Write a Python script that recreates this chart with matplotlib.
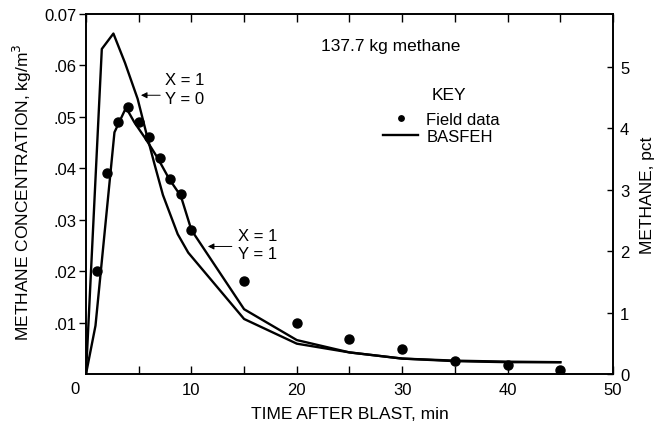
import numpy as np
import matplotlib
matplotlib.use('Agg')
from matplotlib import pyplot as plt

plt.rcParams['font.family'] = ['Liberation Sans', 'DejaVu Sans']

# field data, min / kg/m3
t_field = [1, 2, 3, 4, 5, 6, 7, 8, 9, 10, 15, 20, 25, 30, 35, 40, 45]
c_field = [0.020, 0.039, 0.049, 0.052, 0.049, 0.046, 0.042, 0.038, 0.035,
           0.028, 0.018, 0.010, 0.0069, 0.0049, 0.0026, 0.0018, 0.0008]

# BASFEH, X=1 Y=0
t_y0 = [0, 1.5, 2.6, 3.7, 4.9, 5.7, 6.5, 7.3, 8.7, 9.7, 15, 20, 25, 30, 35, 40, 45]
c_y0 = [0, 0.0632, 0.0662, 0.0605, 0.0535, 0.047, 0.0408, 0.0348, 0.0272,
        0.0236, 0.0107, 0.0059, 0.0042, 0.0030, 0.0025, 0.0023, 0.0023]

# BASFEH, X=1 Y=1
t_y1 = [0, 0.9, 2.7, 3.8, 4.6, 5.7, 6.8, 7.9, 9.0, 10, 15, 20, 25, 30, 35, 40, 45]
c_y1 = [0, 0.0094, 0.047, 0.0518, 0.0489, 0.0456, 0.042, 0.0379, 0.0346,
        0.028, 0.0126, 0.0066, 0.0042, 0.0030, 0.0026, 0.0024, 0.0023]

kg_per_pct = 0.01194

fig = plt.figure(figsize=(6.57, 4.31), dpi=100)
ax = fig.add_axes([0.1309, 0.1299, 0.8021, 0.8353])

pts, = ax.plot(t_field, c_field, 'o', color='k', ms=6.5, label='Field data')
la, = ax.plot(t_y0, c_y0, '-', color='k', lw=1.7, label='BASFEH')
ax.plot(t_y1, c_y1, '-', color='k', lw=1.7)

ax.set_xlim(0, 50)
ax.set_ylim(0, 0.07)

ax.set_xticks(np.arange(0, 51, 10))
ax.set_xticklabels(['', '10', '20', '30', '40', '50'])
ax.set_xticks(np.arange(5, 50, 10), minor=True)
ax.set_yticks([0.01, 0.02, 0.03, 0.04, 0.05, 0.06, 0.07])
ax.set_yticklabels(['.01', '.02', '.03', '.04', '.05', '.06', '0.07'])
ax.tick_params(axis='x', which='both', direction='in', top=True, length=6,
               width=1, labelsize=12, pad=6)
ax.tick_params(axis='y', direction='out', length=5, width=1, labelsize=12, pad=2)
ax.text(-1.0, -0.0029, '0', fontsize=12, ha='center', va='center')

ax2 = ax.twinx()
ax2.set_ylim(0, 0.07 / kg_per_pct)
ax2.set_yticks(range(6))
ax2.tick_params(axis='y', direction='in', length=4, width=1, labelsize=12, pad=5)

for a in (ax, ax2):
    for s in a.spines.values():
        s.set_linewidth(1.2)

ax.set_xlabel('TIME AFTER BLAST, min', fontsize=12.5, labelpad=6)
fig.text(22 / 657, 1 - 192 / 431, 'METHANE CONCENTRATION, kg/m$^3$',
         rotation=90, fontsize=12.5, ha='center', va='center')
ax2.set_ylabel('METHANE, pct', fontsize=12.5, labelpad=8)

ax.text(22.3, 0.0638, '137.7 kg methane', fontsize=12.5, va='center')

ax.text(34.4, 0.0544, 'KEY', fontsize=12.5, ha='center', va='center')
leg = ax.legend(handles=[pts, la], loc='upper left',
                bbox_to_anchor=(0.5636, 0.727), frameon=False, fontsize=12,
                borderpad=0, borderaxespad=0,
                handlelength=2.1, handletextpad=0.5, labelspacing=0.1,
                markerscale=0.6)

ax.text(7.5, 0.0572, 'X = 1', fontsize=12, va='center')
ax.text(7.5, 0.0535, 'Y = 0', fontsize=12, va='center')
ax.annotate('', xy=(4.95, 0.0542), xytext=(7.3, 0.0542),
            arrowprops=dict(arrowstyle='-|>', color='k', lw=0.7, mutation_scale=9))

ax.text(14.4, 0.0269, 'X = 1', fontsize=12, va='center')
ax.text(14.4, 0.0235, 'Y = 1', fontsize=12, va='center')
ax.annotate('', xy=(11.3, 0.0248), xytext=(14.1, 0.0248),
            arrowprops=dict(arrowstyle='-|>', color='k', lw=0.7, mutation_scale=9))

fig.savefig('out.png', dpi=100)
